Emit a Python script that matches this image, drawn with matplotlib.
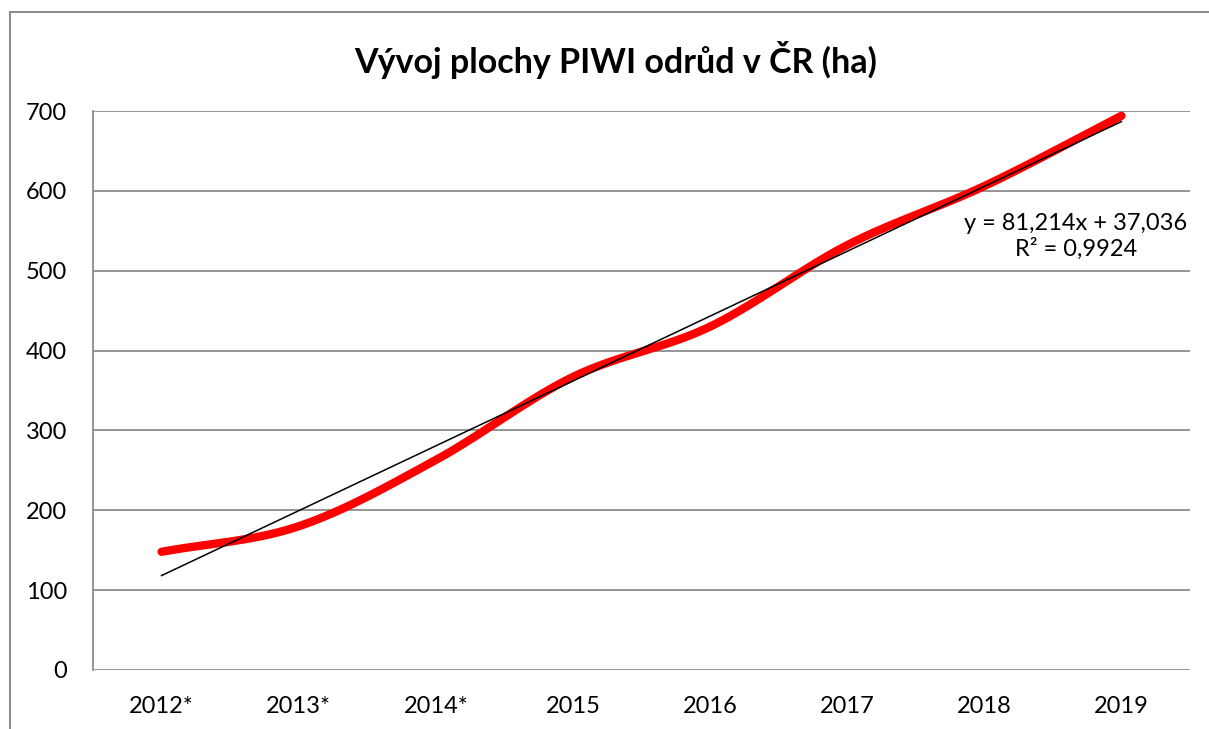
import numpy as np
import matplotlib
matplotlib.use("Agg")
import matplotlib.pyplot as plt
from matplotlib.lines import Line2D

categories = ["2012*", "2013*", "2014*", "2015", "2016", "2017", "2018", "2019"]
values = [148, 180, 263, 367, 430, 532, 606, 694]
yticks = [0, 100, 200, 300, 400, 500, 600, 700]
title = "Vývoj plochy PIWI odrůd v ČR (ha)"
eq_text = "y = 81,214x + 37,036\nR² = 0,9924"

plt.rcParams['font.family'] = ['Lato', 'DejaVu Sans']

W, H = 1209, 729
fig = plt.figure(figsize=(W / 100, H / 100), dpi=100)
ax = fig.add_axes([93 / W, 1 - 670 / H, (1190 - 93) / W, (670 - 111) / H])

x = np.arange(len(categories))
y = np.array(values, dtype=float)

# Catmull-Rom style smoothing (rendering of the line like Excel's smoothed line)
def smooth(xp, yp, n=40):
    pts = np.column_stack([xp, yp])
    ext = np.vstack([pts[0] - (pts[1] - pts[0]), pts, pts[-1] + (pts[-1] - pts[-2])])
    out = []
    for i in range(1, len(ext) - 2):
        p0, p1, p2, p3 = ext[i - 1], ext[i], ext[i + 1], ext[i + 2]
        c1 = p1 + (p2 - p0) / 6
        c2 = p2 - (p3 - p1) / 6
        t = np.linspace(0, 1, n, endpoint=(i == len(ext) - 3))[:, None]
        seg = (1 - t) ** 3 * p1 + 3 * (1 - t) ** 2 * t * c1 + 3 * (1 - t) * t ** 2 * c2 + t ** 3 * p2
        out.append(seg)
    out = np.vstack(out)
    return out[:, 0], out[:, 1]

sx, sy = smooth(x, y)

for v in yticks[1:]:
    ax.axhline(v, color="#8c8c8c", lw=1.3, zorder=1)

ax.plot(sx, sy, color="#ff0000", lw=6, solid_capstyle="round", zorder=3)

coef = np.polyfit(x + 1, y, 1)
ax.plot(x, np.polyval(coef, x + 1), color="black", lw=1.1, zorder=4)

ax.set_xlim(-0.5, len(categories) - 0.5)
ax.set_ylim(0, 700)
ax.set_xticks(x)
ax.set_xticklabels(categories)
ax.set_yticks(yticks)
ax.tick_params(axis="both", length=0, labelsize=17, colors="black")
ax.tick_params(axis="y", pad=18.5)
ax.tick_params(axis="x", pad=19)
for s in ["top", "right", "bottom"]:
    ax.spines[s].set_visible(False)
ax.spines["left"].set_color("#8c8c8c")
ax.spines["left"].set_linewidth(1.3)
ax.axhline(0, color="#8c8c8c", lw=1.3, zorder=1)

ax.text(1076 / W, 1 - 236 / H, eq_text, transform=fig.transFigure,
        ha="center", va="center", fontsize=17, linespacing=1.2)

fig.text(616 / W, 1 - 60 / H, title, ha="center", va="center",
         fontsize=24.5, fontweight="bold")

fig.add_artist(Line2D([10 / W, 10 / W], [0, 1 - 12 / H], transform=fig.transFigure,
                      color="#8c8c8c", lw=1.5))
fig.add_artist(Line2D([10 / W, 1], [1 - 12 / H, 1 - 12 / H], transform=fig.transFigure,
                      color="#8c8c8c", lw=1.5))

fig.savefig("out.png", dpi=100)
